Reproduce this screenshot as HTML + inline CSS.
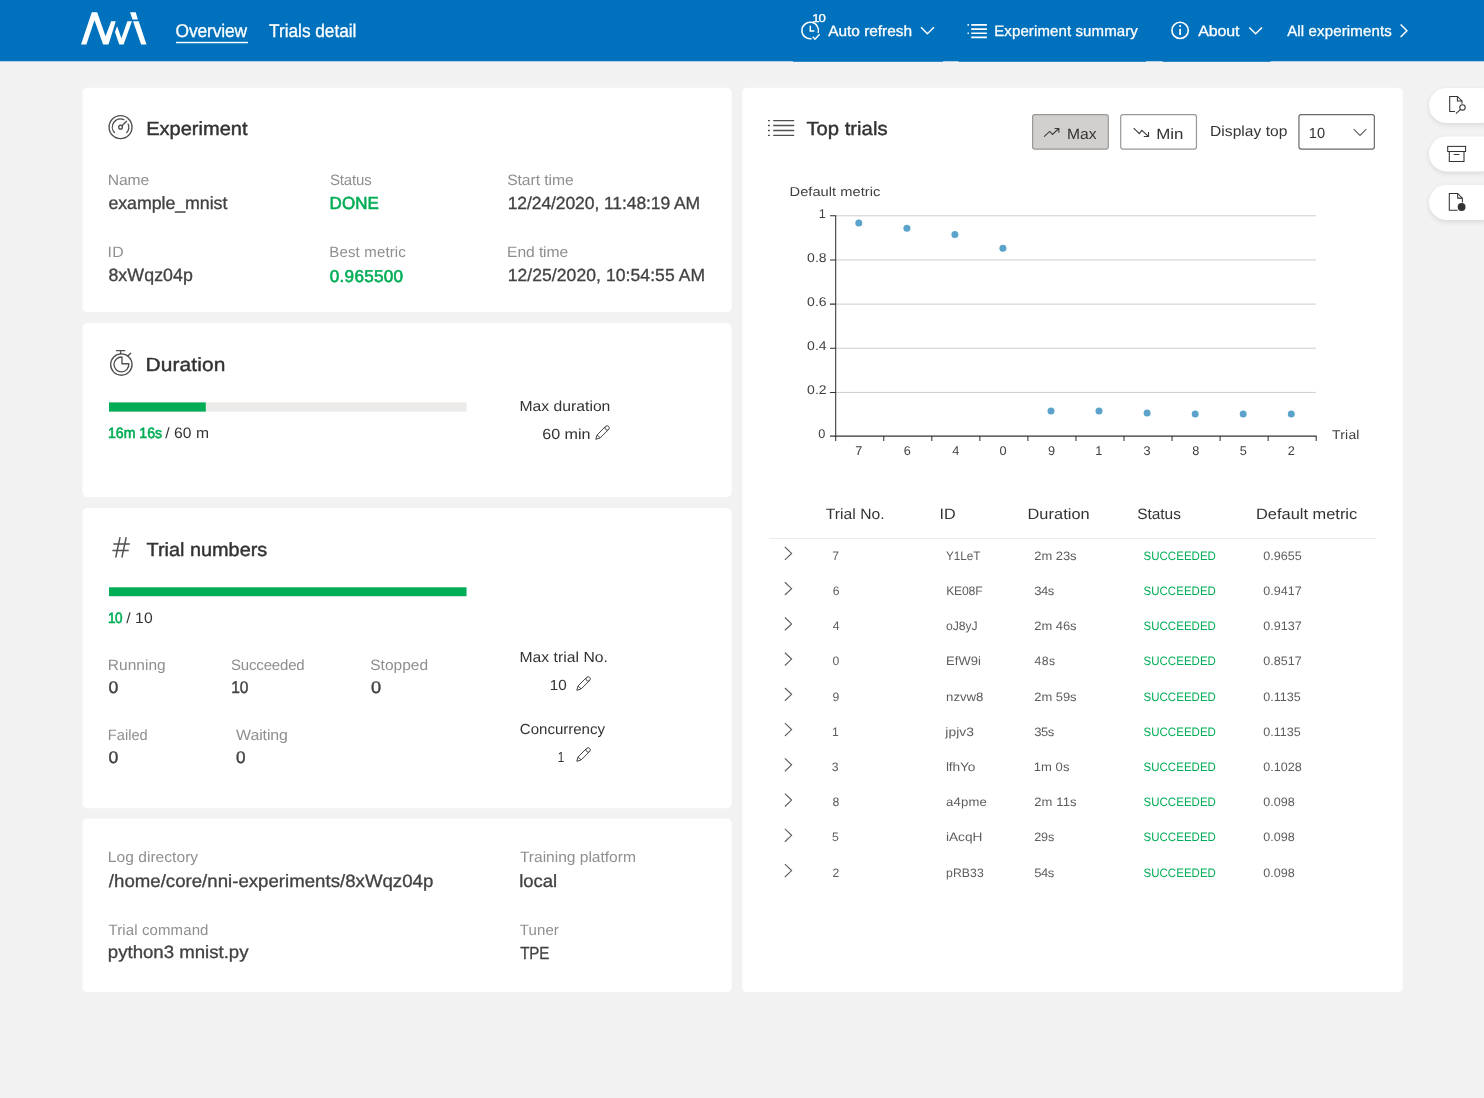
<!DOCTYPE html>
<html lang="en">
<head>
<meta charset="utf-8">
<title>NNI</title>
<style>
*{margin:0;padding:0;box-sizing:border-box}
html,body{width:1484px;height:1098px;overflow:hidden}
body{font-family:"Liberation Sans", Arial, sans-serif;background:#f2f2f2;position:relative;-webkit-font-smoothing:antialiased}
.t{position:absolute;white-space:pre;line-height:1;display:block;transform-origin:0 0;text-rendering:geometricPrecision}
#txt{position:absolute;left:0;top:0;width:1484px;height:1098px;will-change:transform}
.b{-webkit-text-stroke:0.6px currentColor}
.m{-webkit-text-stroke:0.32px currentColor}
.h{-webkit-text-stroke:0.42px currentColor}
.l{-webkit-text-stroke:0.3px currentColor}
.abs{position:absolute}
.card{position:absolute;background:#fff;border-radius:5px}
#nav{position:absolute;left:0;top:0;width:1484px;height:61.5px;background:#0071bc}
.navx{position:absolute;top:61px;height:1px;background:#0071bc}
.bar{position:absolute;height:9px;background:#edebe9}
.bar i{position:absolute;left:0;top:0;height:100%;background:#00ad56;display:block}
.btn{position:absolute;border:1px solid #8a8886;border-radius:2.5px;background:#fff}
.pill{position:absolute;left:1428.8px;width:70px;height:35.2px;border-radius:17.6px;background:#fff;box-shadow:0 2px 5px rgba(0,0,0,.10)}
svg{position:absolute;overflow:visible}
</style>
</head>
<body>
<svg style="left:0;top:0" width="1484" height="64" viewBox="0 0 1484 64">
 <rect x="0" y="0" width="1484" height="61.25" fill="#0071bc"/>
 <rect x="793" y="60" width="150" height="1.75" fill="#0071bc"/>
 <rect x="958.7" y="60" width="187.3" height="1.75" fill="#0071bc"/>
 <rect x="1162.6" y="60" width="108" height="1.75" fill="#0071bc"/>
</svg>

<!-- logo -->
<svg style="left:74px;top:6px" width="80" height="46" viewBox="0 0 1484 853">
 <g fill="#fff">
  <polygon points="130,715 330,115 430,115 585,560 690,283 775,283 640,715 540,715 380,265 230,715"/>
  <polygon points="760,480 800,375 880,600 990,283 1075,283 920,715 840,715"/>
  <polygon points="1040,118 1145,118 1185,250 1085,250"/>
  <polygon points="1095,283 1200,283 1345,715 1245,715"/>
 </g>
</svg>
<svg style="left:0;top:0" width="300" height="62" viewBox="0 0 300 62"><rect x="176" y="41.8" width="71.9" height="1.45" fill="#fff"/></svg>

<!-- nav icons -->
<svg style="left:0;top:0" width="1484" height="62" viewBox="0 0 1484 62" fill="none" stroke="#fff" stroke-width="1.45">
 <!-- auto refresh clock -->
 <path d="M811.64 38.72 A8.3 8.3 0 1 1 818.14 32.98" stroke-width="1.5"/>
 <path d="M810.3 25.8 V30.9 H814.4" stroke-width="1.5"/>
 <path d="M812.7 36.8 L815 39.2 L819.6 34.3"/>
 <path d="M921 27.3 L927.4 33.7 L933.9 27.3"/>
 <!-- list icon -->
 <path d="M971.2 24.9 H986.9 M971.2 29.1 H986.9 M971.2 33.3 H986.9 M971.2 37.4 H986.9" stroke-width="1.6"/>
 <path d="M967.5 24.9 H968.9 M967.5 33.3 H968.9" stroke-width="1.6"/>
 <!-- info -->
 <circle cx="1180.1" cy="30.4" r="8.15" stroke-width="1.6"/>
 <path d="M1180.1 28.7 V35" stroke-width="1.7"/>
 <circle cx="1180.1" cy="26" r="1.05" fill="#fff" stroke="none"/>
 <path d="M1249.3 27.5 L1255.6 33.8 L1262 27.5"/>
 <path d="M1400.6 24.6 L1406.9 30.8 L1400.6 37"/>
</svg>

<!-- cards -->
<svg style="left:0;top:0" width="1484" height="1098" viewBox="0 0 1484 1098" fill="#fff">
 <rect x="82.5" y="87.7" width="649.1" height="224.4" rx="5"/>
 <rect x="82.5" y="323" width="649.1" height="174.1" rx="5"/>
 <rect x="82.5" y="508" width="649.1" height="300.2" rx="5"/>
 <rect x="82.5" y="818.5" width="649.1" height="173.6" rx="5"/>
 <rect x="742.3" y="87.7" width="660.3" height="904.4" rx="5"/>
</svg>

<!-- progress bars -->
<svg style="left:0;top:0" width="1484" height="700" viewBox="0 0 1484 700">
 <rect x="109" y="402.4" width="357.55" height="9.2" fill="#edebe9"/>
 <rect x="109" y="402.4" width="96.8" height="9.2" fill="#00ad56"/>
 <rect x="109" y="587.3" width="357.55" height="8.9" fill="#00ad56"/>
</svg>

<!-- card icons -->
<svg style="left:0;top:0" width="1484" height="1098" viewBox="0 0 1484 1098" fill="none" stroke="#505050" stroke-width="1.35">
 <!-- experiment gauge -->
 <g stroke-linecap="round">
 <circle cx="120.56" cy="127.14" r="11.45"/>
 <path d="M114.35 132.5 A8.2 8.2 0 0 1 123.82 119.61"/>
 <path d="M128.2 124.16 A8.2 8.2 0 0 1 126.67 132.61"/>
 <path d="M122 125.7 L126.5 121.2"/>
 <circle cx="120.56" cy="127.14" r="1.87"/>
 <!-- stopwatch -->
 <circle cx="121.34" cy="364.55" r="10.7"/>
 <path d="M122 357.05 V363.75 H128.8 A7.42 7.42 0 1 1 122 357.05 Z" stroke-linejoin="round"/>
 <path d="M116.5 350.66 H124.7 M120.6 350.66 V353.8"/>
 <path d="M128.05 355.75 L130.75 353.2"/>
 </g>
 <!-- hash -->
 <path d="M113.4 543.9 H129.8 M112.4 550.45 H128.7 M120.08 537.1 L115.72 557.5 M126.24 537.1 L121.88 557.5" stroke-width="1.45"/>
 <!-- top trials list -->
 <path d="M773.2 120.6 H794.2 M773.2 125.5 H794.2 M773.2 130.5 H794.2 M773.2 135.4 H794.2"/>
 <path d="M768 120.6 H769.9 M768 125.5 H769.9 M768 130.5 H769.9 M768 135.4 H769.9"/>
</svg>

<!-- pencils -->
<svg style="left:595px;top:425px" width="15.2" height="15" viewBox="0 0 15 15" fill="none" stroke="#444" stroke-width="1"><path d="M0.7 14.3 L2 9.9 L10.5 1.4 a2.15 2.15 0 0 1 3.05 3.05 L5.05 12.95 Z M2 9.9 L5.05 12.95 M10.5 1.4 a2.15 2.15 0 0 0 3.05 3.05"/></svg>
<svg style="left:575.9px;top:676.1px" width="15.2" height="15" viewBox="0 0 15 15" fill="none" stroke="#444" stroke-width="1"><path d="M0.7 14.3 L2 9.9 L10.5 1.4 a2.15 2.15 0 0 1 3.05 3.05 L5.05 12.95 Z M2 9.9 L5.05 12.95 M10.5 1.4 a2.15 2.15 0 0 0 3.05 3.05"/></svg>
<svg style="left:575.9px;top:747.1px" width="15.2" height="15" viewBox="0 0 15 15" fill="none" stroke="#444" stroke-width="1"><path d="M0.7 14.3 L2 9.9 L10.5 1.4 a2.15 2.15 0 0 1 3.05 3.05 L5.05 12.95 Z M2 9.9 L5.05 12.95 M10.5 1.4 a2.15 2.15 0 0 0 3.05 3.05"/></svg>

<!-- top trials controls -->
<svg style="left:0;top:0" width="1484" height="200" viewBox="0 0 1484 200" fill="none">
 <rect x="1032.6" y="114.55" width="75.7" height="34.6" rx="2.3" fill="#d2d0ce" stroke="#9a9896" stroke-width="1.2"/>
 <rect x="1120.7" y="114.55" width="75.75" height="34.6" rx="2.3" fill="#fff" stroke="#9a9896" stroke-width="1.2"/>
 <rect x="1298.95" y="114.55" width="75.4" height="34.6" rx="2.3" fill="#fff" stroke="#6b6967" stroke-width="1.2"/>
 <g stroke="#3a3a3a" stroke-width="1.1">
 <path d="M1044.05 136.7 L1049.74 131.46 L1052.47 134.42 L1058.75 128.5 M1054.6 128.5 H1058.85 V132.8"/>
 <path d="M1133.7 128.2 L1139.36 133.6 L1141.79 130.37 L1148.4 136.45 M1143.8 136.57 H1148.53 V132.1"/>
 <path d="M1353.7 129.2 L1360 135.5 L1366.3 129.2" stroke="#605e5c"/>
 </g>
</svg>

<!-- chart -->
<svg style="left:0;top:0" width="1484" height="500" viewBox="0 0 1484 500" fill="none">
 <g stroke="#ccc" stroke-width="1">
  <path d="M835.7 215.8 H1315.8 M835.7 259.9 H1315.8 M835.7 304.1 H1315.8 M835.7 348.2 H1315.8 M835.7 392.4 H1315.8"/>
 </g>
 <g stroke="#333" stroke-width="1.05">
  <path d="M835.7 215.3 V436.6"/>
  <path d="M830 215.8 H835.7 M830 259.9 H835.7 M830 304.1 H835.7 M830 348.2 H835.7 M830 392.4 H835.7 M830 436.1 H835.7"/>
  <path d="M835.2 436.1 H1316.6"/>
  <path d="M835.7 436.1 V441 M883.75 436.1 V441 M931.8 436.1 V441 M979.85 436.1 V441 M1027.9 436.1 V441 M1075.95 436.1 V441 M1124 436.1 V441 M1172.05 436.1 V441 M1220.1 436.1 V441 M1268.15 436.1 V441 M1316.2 436.1 V441"/>
 </g>
 <g fill="#5ba3cb">
  <circle cx="858.8" cy="223.1" r="3.5"/><circle cx="906.9" cy="228.3" r="3.5"/><circle cx="954.9" cy="234.5" r="3.5"/><circle cx="1002.9" cy="248.2" r="3.5"/>
  <circle cx="1051" cy="411" r="3.5"/><circle cx="1099" cy="411" r="3.5"/><circle cx="1147.1" cy="413.1" r="3.5"/><circle cx="1195.2" cy="413.9" r="3.5"/><circle cx="1243.2" cy="413.9" r="3.5"/><circle cx="1291.3" cy="413.9" r="3.5"/>
 </g>
</svg>

<!-- table -->
<div class="abs" style="left:768.6px;top:537.8px;width:607.2px;height:1px;background:#edebe9"></div>
<svg style="left:0;top:540px" width="1484" height="360" viewBox="0 540 1484 360" fill="none" stroke="#605e5c" stroke-width="1.15">
 <path d="M784.9 547.00 L791.6 553.40 L784.9 559.80"/>
 <path d="M784.9 582.24 L791.6 588.64 L784.9 595.04"/>
 <path d="M784.9 617.48 L791.6 623.88 L784.9 630.28"/>
 <path d="M784.9 652.72 L791.6 659.12 L784.9 665.52"/>
 <path d="M784.9 687.96 L791.6 694.36 L784.9 700.76"/>
 <path d="M784.9 723.20 L791.6 729.60 L784.9 736.00"/>
 <path d="M784.9 758.44 L791.6 764.84 L784.9 771.24"/>
 <path d="M784.9 793.68 L791.6 800.08 L784.9 806.48"/>
 <path d="M784.9 828.92 L791.6 835.32 L784.9 841.72"/>
 <path d="M784.9 864.16 L791.6 870.56 L784.9 876.96"/>
</svg>

<!-- side pills -->
<div class="pill" style="top:87.8px"></div>
<div class="pill" style="top:136px;transform:translateY(0.4px)"></div>
<div class="pill" style="top:184.8px"></div>
<svg style="left:0;top:0" width="1484" height="240" viewBox="0 0 1484 240" fill="none" stroke="#333" stroke-width="1.05">
 <path d="M1455 111.4 H1449.7 V96.4 H1457.4 L1462 101 V103.8 M1457.4 96.4 V101 H1462"/>
 <circle cx="1462.5" cy="107.4" r="2.7"/>
 <path d="M1460.6 109.4 L1455.9 113.6"/>
 <rect x="1447.7" y="146.4" width="17.9" height="5.1"/>
 <path d="M1449.3 151.5 V161.5 H1464 V151.5 M1453.8 154.4 H1459.4"/>
 <path d="M1457.6 210.2 H1449.3 V193.4 H1457.7 L1462.4 198.1 V202.4 M1457.7 193.4 V198.1 H1462.4"/>
 <circle cx="1461.6" cy="207" r="3.9" fill="#333" stroke="none"/>
</svg>

<!-- text -->
<div id="txt">
<span class="t l" style="left:175px;top:22px;font-size:18.4px;letter-spacing:-0.117px;transform:translate(0.53px,0.10px) scaleX(0.9448);color:#ffffff">Overview</span>
<span class="t l" style="left:269px;top:22px;font-size:18.4px;letter-spacing:-0.020px;transform:translate(0.11px,0.10px) scaleX(0.9373);color:#ffffff">Trials detail</span>
<span class="t m" style="left:812px;top:13px;font-size:11.4px;letter-spacing:-0.987px;transform:translate(0.36px,0.70px) scaleX(1.1543);color:#ffffff">10</span>
<span class="t l" style="left:828px;top:23px;font-size:15px;letter-spacing:-0.008px;transform:translate(0.16px,0.70px) scaleX(1.0283);color:#ffffff">Auto refresh</span>
<span class="t l" style="left:994px;top:23px;font-size:15px;letter-spacing:0.114px;transform:translate(0.22px,0.70px) scaleX(1.0000);color:#ffffff">Experiment summary</span>
<span class="t l" style="left:1198px;top:23px;font-size:15px;letter-spacing:-0.140px;transform:translate(0.30px,0.70px) scaleX(1.0661);color:#ffffff">About</span>
<span class="t l" style="left:1287px;top:23px;font-size:15px;letter-spacing:0.147px;transform:translate(0.16px,0.70px) scaleX(1.0000);color:#ffffff">All experiments</span>
<span class="t h" style="left:146px;top:120px;font-size:19px;letter-spacing:-0.013px;transform:translate(0.20px,0.00px) scaleX(1.0559);color:#333333">Experiment</span>
<span class="t" style="left:107px;top:173px;font-size:15px;letter-spacing:-0.131px;transform:translate(0.77px,0.00px) scaleX(1.0456);color:#8f8f8f">Name</span>
<span class="t m" style="left:108px;top:194px;font-size:17.8px;letter-spacing:-0.051px;transform:translate(0.42px,0.80px) scaleX(1.0000);color:#424242">example_mnist</span>
<span class="t" style="left:330px;top:173px;font-size:15px;letter-spacing:-0.180px;transform:translate(0.03px,0.00px) scaleX(1.0000);color:#8f8f8f">Status</span>
<span class="t b" style="left:329px;top:194px;font-size:17.5px;letter-spacing:0.067px;transform:translate(0.58px,0.80px) scaleX(0.9694);color:#00ad56">DONE</span>
<span class="t" style="left:507px;top:173px;font-size:15px;letter-spacing:-0.067px;transform:translate(0.18px,0.00px) scaleX(1.0463);color:#8f8f8f">Start time</span>
<span class="t m" style="left:507px;top:194px;font-size:17.5px;letter-spacing:-0.080px;transform:translate(0.64px,0.80px) scaleX(1.0000);color:#424242">12/24/2020, 11:48:19 AM</span>
<span class="t" style="left:107px;top:244px;font-size:15px;letter-spacing:0.191px;transform:translate(0.61px,0.80px) scaleX(1.0550);color:#8f8f8f">ID</span>
<span class="t m" style="left:108px;top:267px;font-size:17.8px;letter-spacing:0.066px;transform:translate(0.41px,0.40px) scaleX(1.0000);color:#424242">8xWqz04p</span>
<span class="t" style="left:329px;top:244px;font-size:15px;letter-spacing:0.156px;transform:translate(0.27px,0.80px) scaleX(1.0000);color:#8f8f8f">Best metric</span>
<span class="t b" style="left:329px;top:267px;font-size:17.1px;letter-spacing:0.264px;transform:translate(0.83px,0.90px) scaleX(1.0000);color:#00ad56">0.965500</span>
<span class="t" style="left:507px;top:244px;font-size:15px;letter-spacing:-0.100px;transform:translate(0.12px,0.80px) scaleX(1.0427);color:#8f8f8f">End time</span>
<span class="t m" style="left:507px;top:267px;font-size:17.5px;letter-spacing:0.082px;transform:translate(0.64px,0.40px) scaleX(1.0000);color:#424242">12/25/2020, 10:54:55 AM</span>
<span class="t h" style="left:145px;top:356px;font-size:19px;letter-spacing:0.110px;transform:translate(0.44px,0.10px) scaleX(1.1013);color:#333333">Duration</span>
<span class="t b" style="left:108px;top:425px;font-size:15px;letter-spacing:-0.041px;transform:translate(0.00px,0.50px) scaleX(0.9439);color:#00ad56">16m 16s</span>
<span class="t" style="left:165px;top:425px;font-size:15px;letter-spacing:0.034px;transform:translate(0.36px,0.50px) scaleX(1.0426);color:#333333">/ 60 m</span>
<span class="t" style="left:519px;top:399px;font-size:14.6px;letter-spacing:0.009px;transform:translate(0.45px,0.70px) scaleX(1.0763);color:#333333">Max duration</span>
<span class="t" style="left:542px;top:428px;font-size:14.6px;letter-spacing:-0.010px;transform:translate(0.20px,0.00px) scaleX(1.1036);color:#333333">60 min</span>
<span class="t h" style="left:146px;top:540px;font-size:19px;letter-spacing:-0.016px;transform:translate(0.58px,0.70px) scaleX(1.0470);color:#333333">Trial numbers</span>
<span class="t b" style="left:108px;top:611px;font-size:15px;letter-spacing:-0.708px;transform:translate(0.06px,0.20px) scaleX(0.9025);color:#00ad56">10</span>
<span class="t" style="left:126px;top:611px;font-size:15px;letter-spacing:0.089px;transform:translate(0.13px,0.20px) scaleX(1.0478);color:#333333">/ 10</span>
<span class="t" style="left:107px;top:658px;font-size:15px;letter-spacing:0.041px;transform:translate(0.81px,0.00px) scaleX(1.0320);color:#8f8f8f">Running</span>
<span class="t h" style="left:108px;top:678px;font-size:17px;letter-spacing:0.000px;transform:translate(0.50px,0.50px) scaleX(1.0329);color:#424242">0</span>
<span class="t" style="left:231px;top:658px;font-size:15px;letter-spacing:-0.181px;transform:translate(0.03px,0.00px) scaleX(1.0000);color:#8f8f8f">Succeeded</span>
<span class="t h" style="left:231px;top:678px;font-size:17px;letter-spacing:-0.167px;transform:translate(0.21px,0.50px) scaleX(0.9151);color:#424242">10</span>
<span class="t" style="left:370px;top:658px;font-size:15px;letter-spacing:-0.005px;transform:translate(0.21px,0.00px) scaleX(1.0364);color:#8f8f8f">Stopped</span>
<span class="t h" style="left:370px;top:678px;font-size:17px;letter-spacing:0.000px;transform:translate(0.95px,0.50px) scaleX(1.0673);color:#424242">0</span>
<span class="t" style="left:107px;top:728px;font-size:15px;letter-spacing:0.014px;transform:translate(0.79px,0.00px) scaleX(0.9747);color:#8f8f8f">Failed</span>
<span class="t h" style="left:108px;top:748px;font-size:17px;letter-spacing:0.000px;transform:translate(0.50px,0.50px) scaleX(1.0329);color:#424242">0</span>
<span class="t" style="left:236px;top:728px;font-size:15px;letter-spacing:-0.114px;transform:translate(0.12px,0.00px) scaleX(1.0617);color:#8f8f8f">Waiting</span>
<span class="t h" style="left:235px;top:748px;font-size:17px;letter-spacing:0.000px;transform:translate(0.96px,0.50px) scaleX(1.0099);color:#424242">0</span>
<span class="t" style="left:519px;top:650px;font-size:14.6px;letter-spacing:0.015px;transform:translate(0.45px,0.90px) scaleX(1.0776);color:#333333">Max trial No.</span>
<span class="t" style="left:549px;top:679px;font-size:14.6px;letter-spacing:-0.083px;transform:translate(0.78px,0.40px) scaleX(1.0423);color:#333333">10</span>
<span class="t" style="left:519px;top:722px;font-size:14.6px;letter-spacing:-0.012px;transform:translate(0.86px,0.70px) scaleX(1.0303);color:#333333">Concurrency</span>
<span class="t" style="left:557px;top:750px;font-size:14.6px;letter-spacing:0.000px;transform:translate(0.85px,0.50px) scaleX(0.8000);color:#333333">1</span>
<span class="t" style="left:107px;top:849px;font-size:15px;letter-spacing:0.019px;transform:translate(0.79px,0.80px) scaleX(1.0393);color:#8f8f8f">Log directory</span>
<span class="t m" style="left:108px;top:872px;font-size:17.8px;letter-spacing:0.010px;transform:translate(0.82px,0.80px) scaleX(1.0477);color:#424242">/home/core/nni-experiments/8xWqz04p</span>
<span class="t" style="left:108px;top:923px;font-size:15px;letter-spacing:0.114px;transform:translate(0.44px,0.00px) scaleX(1.0000);color:#8f8f8f">Trial command</span>
<span class="t m" style="left:107px;top:944px;font-size:17.8px;letter-spacing:-0.013px;transform:translate(0.87px,0.40px) scaleX(1.0474);color:#424242">python3 mnist.py</span>
<span class="t" style="left:519px;top:849px;font-size:15px;letter-spacing:-0.017px;transform:translate(0.89px,0.80px) scaleX(1.0385);color:#8f8f8f">Training platform</span>
<span class="t m" style="left:519px;top:872px;font-size:17.8px;letter-spacing:-0.081px;transform:translate(0.27px,0.80px) scaleX(1.0406);color:#424242">local</span>
<span class="t" style="left:519px;top:923px;font-size:15px;letter-spacing:0.099px;transform:translate(0.82px,0.00px) scaleX(1.0000);color:#8f8f8f">Tuner</span>
<span class="t m" style="left:520px;top:944px;font-size:17.4px;letter-spacing:-0.216px;transform:translate(0.19px,0.90px) scaleX(0.8698);color:#424242">TPE</span>
<span class="t h" style="left:806px;top:120px;font-size:19px;letter-spacing:0.004px;transform:translate(0.40px,0.00px) scaleX(1.0667);color:#333333">Top trials</span>
<span class="t" style="left:1066px;top:126px;font-size:15px;letter-spacing:0.035px;transform:translate(0.95px,0.80px) scaleX(1.0434);color:#333333">Max</span>
<span class="t" style="left:1156px;top:126px;font-size:15px;letter-spacing:-0.071px;transform:translate(0.29px,0.80px) scaleX(1.1247);color:#333333">Min</span>
<span class="t" style="left:1210px;top:124px;font-size:14.6px;letter-spacing:0.030px;transform:translate(0.05px,0.90px) scaleX(1.0665);color:#333333">Display top</span>
<span class="t" style="left:1308px;top:126px;font-size:14.6px;letter-spacing:0.220px;transform:translate(0.64px,0.70px) scaleX(1.0000);color:#333333">10</span>
<span class="t" style="left:825px;top:506px;font-size:15px;letter-spacing:0.048px;transform:translate(0.68px,0.90px) scaleX(1.0434);color:#333333">Trial No.</span>
<span class="t" style="left:939px;top:506px;font-size:15px;letter-spacing:-0.049px;transform:translate(0.55px,0.90px) scaleX(1.0785);color:#333333">ID</span>
<span class="t" style="left:1027px;top:506px;font-size:15px;letter-spacing:0.065px;transform:translate(0.42px,0.90px) scaleX(1.0900);color:#333333">Duration</span>
<span class="t" style="left:1137px;top:506px;font-size:15px;letter-spacing:-0.045px;transform:translate(0.21px,0.90px) scaleX(1.0327);color:#333333">Status</span>
<span class="t" style="left:1256px;top:506px;font-size:15px;letter-spacing:0.005px;transform:translate(0.01px,0.90px) scaleX(1.0927);color:#333333">Default metric</span>
<span class="t" style="left:832px;top:549px;font-size:12.2px;letter-spacing:0.000px;transform:translate(0.21px,0.70px) scaleX(1.0000);color:#605e5c">7</span>
<span class="t" style="left:946px;top:549px;font-size:12.2px;letter-spacing:-0.031px;transform:translate(0.03px,0.70px) scaleX(0.9641);color:#605e5c">Y1LeT</span>
<span class="t" style="left:1034px;top:549px;font-size:12.2px;letter-spacing:-0.046px;transform:translate(0.27px,0.70px) scaleX(1.0632);color:#605e5c">2m 23s</span>
<span class="t" style="left:1143px;top:549px;font-size:12.2px;letter-spacing:0.052px;transform:translate(0.51px,0.70px) scaleX(0.9409);color:#00ad56">SUCCEEDED</span>
<span class="t" style="left:1263px;top:549px;font-size:12.2px;letter-spacing:-0.003px;transform:translate(0.27px,0.70px) scaleX(1.0303);color:#605e5c">0.9655</span>
<span class="t" style="left:832px;top:584px;font-size:12.2px;letter-spacing:0.000px;transform:translate(0.64px,0.90px) scaleX(1.0000);color:#605e5c">6</span>
<span class="t" style="left:946px;top:584px;font-size:12.2px;letter-spacing:-0.191px;transform:translate(0.13px,0.90px) scaleX(1.0000);color:#605e5c">KE08F</span>
<span class="t" style="left:1034px;top:584px;font-size:12.2px;letter-spacing:-0.435px;transform:translate(0.19px,0.90px) scaleX(1.0713);color:#605e5c">34s</span>
<span class="t" style="left:1143px;top:584px;font-size:12.2px;letter-spacing:0.052px;transform:translate(0.51px,0.90px) scaleX(0.9409);color:#00ad56">SUCCEEDED</span>
<span class="t" style="left:1263px;top:584px;font-size:12.2px;letter-spacing:-0.003px;transform:translate(0.27px,0.90px) scaleX(1.0303);color:#605e5c">0.9417</span>
<span class="t" style="left:832px;top:620px;font-size:12.2px;letter-spacing:0.000px;transform:translate(0.77px,0.10px) scaleX(1.0000);color:#605e5c">4</span>
<span class="t" style="left:946px;top:620px;font-size:12.2px;letter-spacing:-0.071px;transform:translate(0.05px,0.10px) scaleX(1.0000);color:#605e5c">oJ8yJ</span>
<span class="t" style="left:1034px;top:620px;font-size:12.2px;letter-spacing:-0.046px;transform:translate(0.27px,0.10px) scaleX(1.0632);color:#605e5c">2m 46s</span>
<span class="t" style="left:1143px;top:620px;font-size:12.2px;letter-spacing:0.052px;transform:translate(0.51px,0.10px) scaleX(0.9409);color:#00ad56">SUCCEEDED</span>
<span class="t" style="left:1263px;top:620px;font-size:12.2px;letter-spacing:-0.003px;transform:translate(0.27px,0.10px) scaleX(1.0303);color:#605e5c">0.9137</span>
<span class="t" style="left:832px;top:655px;font-size:12.2px;letter-spacing:0.000px;transform:translate(0.61px,0.30px) scaleX(1.0000);color:#605e5c">0</span>
<span class="t" style="left:946px;top:655px;font-size:12.2px;letter-spacing:0.047px;transform:translate(0.05px,0.30px) scaleX(1.0645);color:#605e5c">EfW9i</span>
<span class="t" style="left:1034px;top:655px;font-size:12.2px;letter-spacing:0.447px;transform:translate(0.50px,0.30px) scaleX(1.0000);color:#605e5c">48s</span>
<span class="t" style="left:1143px;top:655px;font-size:12.2px;letter-spacing:0.052px;transform:translate(0.51px,0.30px) scaleX(0.9409);color:#00ad56">SUCCEEDED</span>
<span class="t" style="left:1263px;top:655px;font-size:12.2px;letter-spacing:-0.003px;transform:translate(0.27px,0.30px) scaleX(1.0303);color:#605e5c">0.8517</span>
<span class="t" style="left:832px;top:690px;font-size:12.2px;letter-spacing:0.000px;transform:translate(0.43px,0.50px) scaleX(1.0000);color:#605e5c">9</span>
<span class="t" style="left:946px;top:690px;font-size:12.2px;letter-spacing:-0.019px;transform:translate(0.07px,0.50px) scaleX(1.0828);color:#605e5c">nzvw8</span>
<span class="t" style="left:1034px;top:690px;font-size:12.2px;letter-spacing:-0.046px;transform:translate(0.27px,0.50px) scaleX(1.0632);color:#605e5c">2m 59s</span>
<span class="t" style="left:1143px;top:690px;font-size:12.2px;letter-spacing:0.052px;transform:translate(0.51px,0.50px) scaleX(0.9409);color:#00ad56">SUCCEEDED</span>
<span class="t" style="left:1263px;top:690px;font-size:12.2px;letter-spacing:-0.003px;transform:translate(0.27px,0.50px) scaleX(1.0303);color:#605e5c">0.1135</span>
<span class="t" style="left:832px;top:725px;font-size:12.2px;letter-spacing:0.000px;transform:translate(0.00px,0.70px) scaleX(1.0000);color:#605e5c">1</span>
<span class="t" style="left:945px;top:725px;font-size:12.2px;letter-spacing:0.046px;transform:translate(0.31px,0.70px) scaleX(1.1363);color:#605e5c">jpjv3</span>
<span class="t" style="left:1034px;top:725px;font-size:12.2px;letter-spacing:-0.435px;transform:translate(0.19px,0.70px) scaleX(1.0713);color:#605e5c">35s</span>
<span class="t" style="left:1143px;top:725px;font-size:12.2px;letter-spacing:0.052px;transform:translate(0.51px,0.70px) scaleX(0.9409);color:#00ad56">SUCCEEDED</span>
<span class="t" style="left:1263px;top:725px;font-size:12.2px;letter-spacing:-0.003px;transform:translate(0.27px,0.70px) scaleX(1.0303);color:#605e5c">0.1135</span>
<span class="t" style="left:831px;top:760px;font-size:12.2px;letter-spacing:0.000px;transform:translate(0.86px,0.90px) scaleX(1.0000);color:#605e5c">3</span>
<span class="t" style="left:945px;top:760px;font-size:12.2px;letter-spacing:-0.116px;transform:translate(0.88px,0.90px) scaleX(1.1238);color:#605e5c">lfhYo</span>
<span class="t" style="left:1033px;top:760px;font-size:12.2px;letter-spacing:0.054px;transform:translate(0.63px,0.90px) scaleX(1.0729);color:#605e5c">1m 0s</span>
<span class="t" style="left:1143px;top:760px;font-size:12.2px;letter-spacing:0.052px;transform:translate(0.51px,0.90px) scaleX(0.9409);color:#00ad56">SUCCEEDED</span>
<span class="t" style="left:1263px;top:760px;font-size:12.2px;letter-spacing:-0.003px;transform:translate(0.27px,0.90px) scaleX(1.0303);color:#605e5c">0.1028</span>
<span class="t" style="left:832px;top:796px;font-size:12.2px;letter-spacing:0.000px;transform:translate(0.48px,0.10px) scaleX(1.0000);color:#605e5c">8</span>
<span class="t" style="left:946px;top:796px;font-size:12.2px;letter-spacing:0.169px;transform:translate(0.03px,0.10px) scaleX(1.0753);color:#605e5c">a4pme</span>
<span class="t" style="left:1034px;top:796px;font-size:12.2px;letter-spacing:0.089px;transform:translate(0.27px,0.10px) scaleX(1.0683);color:#605e5c">2m 11s</span>
<span class="t" style="left:1143px;top:796px;font-size:12.2px;letter-spacing:0.052px;transform:translate(0.51px,0.10px) scaleX(0.9409);color:#00ad56">SUCCEEDED</span>
<span class="t" style="left:1263px;top:796px;font-size:12.2px;letter-spacing:-0.003px;transform:translate(0.27px,0.10px) scaleX(1.0303);color:#605e5c">0.098</span>
<span class="t" style="left:831px;top:831px;font-size:12.2px;letter-spacing:0.000px;transform:translate(0.97px,0.30px) scaleX(1.0000);color:#605e5c">5</span>
<span class="t" style="left:945px;top:831px;font-size:12.2px;letter-spacing:0.022px;transform:translate(0.91px,0.30px) scaleX(1.1201);color:#605e5c">iAcqH</span>
<span class="t" style="left:1034px;top:831px;font-size:12.2px;letter-spacing:-0.081px;transform:translate(0.22px,0.30px) scaleX(1.0293);color:#605e5c">29s</span>
<span class="t" style="left:1143px;top:831px;font-size:12.2px;letter-spacing:0.052px;transform:translate(0.51px,0.30px) scaleX(0.9409);color:#00ad56">SUCCEEDED</span>
<span class="t" style="left:1263px;top:831px;font-size:12.2px;letter-spacing:-0.003px;transform:translate(0.27px,0.30px) scaleX(1.0303);color:#605e5c">0.098</span>
<span class="t" style="left:832px;top:866px;font-size:12.2px;letter-spacing:0.000px;transform:translate(0.42px,0.50px) scaleX(1.0000);color:#605e5c">2</span>
<span class="t" style="left:946px;top:866px;font-size:12.2px;letter-spacing:0.117px;transform:translate(0.06px,0.50px) scaleX(1.0000);color:#605e5c">pRB33</span>
<span class="t" style="left:1034px;top:866px;font-size:12.2px;letter-spacing:-0.415px;transform:translate(0.19px,0.50px) scaleX(1.0692);color:#605e5c">54s</span>
<span class="t" style="left:1143px;top:866px;font-size:12.2px;letter-spacing:0.052px;transform:translate(0.51px,0.50px) scaleX(0.9409);color:#00ad56">SUCCEEDED</span>
<span class="t" style="left:1263px;top:866px;font-size:12.2px;letter-spacing:-0.003px;transform:translate(0.27px,0.50px) scaleX(1.0303);color:#605e5c">0.098</span>
<span class="t" style="left:789px;top:185px;font-size:12.9px;letter-spacing:0.030px;transform:translate(0.52px,0.70px) scaleX(1.1369);color:#404040">Default metric</span>
<span class="t" style="left:818px;top:428px;font-size:12.7px;letter-spacing:0.000px;transform:translate(0.26px,0.40px) scaleX(1.0000);color:#404040">0</span>
<span class="t" style="left:807px;top:251px;font-size:12.7px;letter-spacing:0.068px;transform:translate(0.03px,0.76px) scaleX(1.1023);color:#404040">0.8</span>
<span class="t" style="left:807px;top:384px;font-size:12.7px;letter-spacing:0.068px;transform:translate(0.03px,0.24px) scaleX(1.1023);color:#404040">0.2</span>
<span class="t" style="left:807px;top:340px;font-size:12.7px;letter-spacing:0.068px;transform:translate(0.03px,0.08px) scaleX(1.1023);color:#404040">0.4</span>
<span class="t" style="left:807px;top:295px;font-size:12.7px;letter-spacing:0.068px;transform:translate(0.03px,0.92px) scaleX(1.1023);color:#404040">0.6</span>
<span class="t" style="left:818px;top:207px;font-size:12.7px;letter-spacing:0.000px;transform:translate(0.72px,0.60px) scaleX(1.0000);color:#404040">1</span>
<span class="t" style="left:855px;top:444px;font-size:12.7px;letter-spacing:0.000px;transform:translate(0.28px,0.50px) scaleX(1.0000);color:#404040">7</span>
<span class="t" style="left:903px;top:444px;font-size:12.7px;letter-spacing:0.000px;transform:translate(0.70px,0.50px) scaleX(1.0000);color:#404040">6</span>
<span class="t" style="left:952px;top:444px;font-size:12.7px;letter-spacing:0.000px;transform:translate(0.23px,0.50px) scaleX(1.0000);color:#404040">4</span>
<span class="t" style="left:999px;top:444px;font-size:12.7px;letter-spacing:0.000px;transform:translate(0.58px,0.50px) scaleX(1.0000);color:#404040">0</span>
<span class="t" style="left:1047px;top:444px;font-size:12.7px;letter-spacing:0.000px;transform:translate(0.95px,0.50px) scaleX(1.0000);color:#404040">9</span>
<span class="t" style="left:1095px;top:444px;font-size:12.7px;letter-spacing:0.000px;transform:translate(0.19px,0.50px) scaleX(1.0000);color:#404040">1</span>
<span class="t" style="left:1143px;top:444px;font-size:12.7px;letter-spacing:0.000px;transform:translate(0.38px,0.50px) scaleX(1.0000);color:#404040">3</span>
<span class="t" style="left:1192px;top:444px;font-size:12.7px;letter-spacing:0.000px;transform:translate(0.24px,0.50px) scaleX(1.0000);color:#404040">8</span>
<span class="t" style="left:1239px;top:444px;font-size:12.7px;letter-spacing:0.000px;transform:translate(0.76px,0.50px) scaleX(1.0000);color:#404040">5</span>
<span class="t" style="left:1287px;top:444px;font-size:12.7px;letter-spacing:0.000px;transform:translate(0.82px,0.50px) scaleX(1.0000);color:#404040">2</span>
<span class="t" style="left:1331px;top:428px;font-size:12.7px;letter-spacing:0.210px;transform:translate(0.97px,0.70px) scaleX(1.0981);color:#404040">Trial</span>
</div>
</body>
</html>
